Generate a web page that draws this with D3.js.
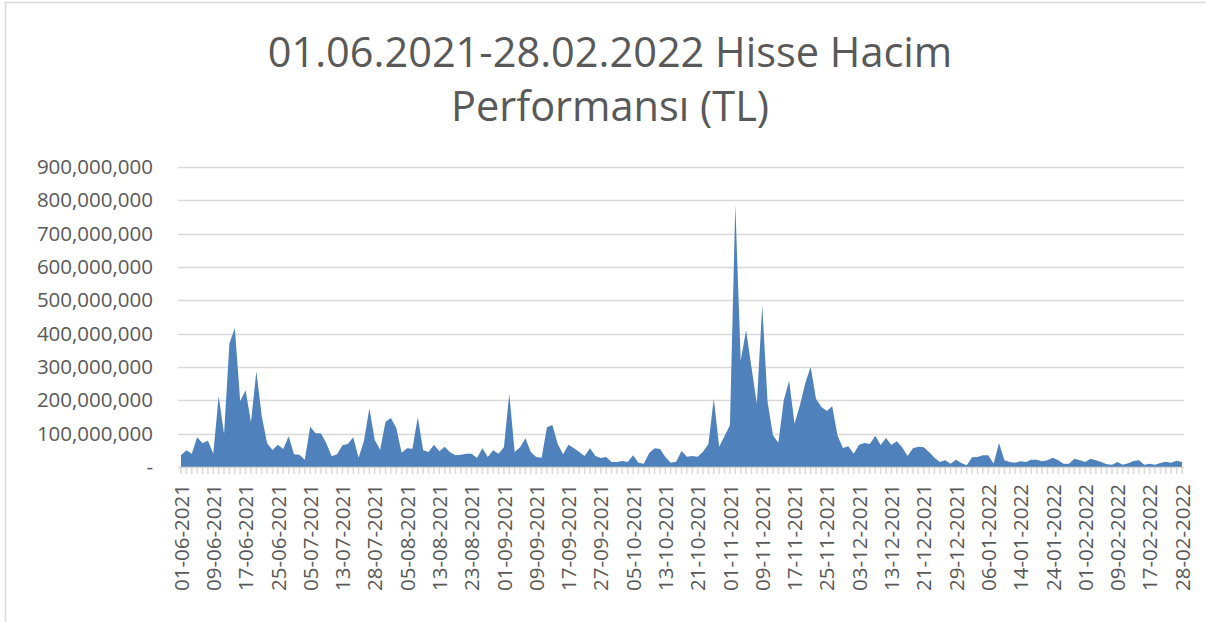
<!DOCTYPE html>
<html>
<head>
<meta charset="utf-8">
<script src="https://cdn.jsdelivr.net/npm/d3@7"></script>
<style>
  html, body { margin: 0; padding: 0; background: #fff; }
  svg { display: block; font-family: 'Open Sans', sans-serif; }
</style>
</head>
<body>
<div id="chart"></div>
<script>
// trading days: every weekday from 01-06-2021 to 28-02-2022 except these
const startDate = '2021-06-01';
const endDate = '2022-02-28';
const closedDays = [
  '2021-07-15', '2021-07-20', '2021-07-21', '2021-07-22', '2021-07-23',
  '2021-08-30', '2021-10-29', '2022-02-18'
];

// daily traded volume, millions of TL
const volumeM = [
  35, 50, 40, 89, 71, 79, 40, 213, 99, 371,
  416, 198, 230, 134, 287, 153, 71, 51, 67, 54,
  92, 38, 37, 22, 121, 101, 101, 71, 32, 38,
  65, 69, 89, 28, 79, 176, 81, 52, 136, 147,
  117, 43, 56, 55, 149, 50, 45, 67, 47, 61,
  44, 35, 37, 40, 40, 27, 56, 30, 50, 40,
  59, 220, 45, 59, 86, 45, 30, 28, 119, 126,
  69, 38, 67, 56, 45, 33, 56, 33, 27, 30,
  15, 15, 18, 15, 35, 13, 10, 42, 56, 54,
  30, 13, 16, 48, 31, 33, 31, 46, 69, 205,
  61, 93, 125, 787, 319, 410, 299, 190, 485, 194,
  95, 73, 200, 259, 130, 185, 251, 301, 204, 180,
  168, 182, 94, 57, 62, 40, 67, 72, 69, 94,
  66, 87, 66, 77, 59, 33, 56, 61, 59, 45,
  28, 15, 20, 10, 22, 12, 5, 29, 30, 35,
  35, 10, 72, 20, 15, 13, 17, 15, 22, 22,
  17, 20, 28, 20, 10, 10, 25, 20, 15, 25,
  20, 15, 8, 7, 15, 7, 11, 18, 20, 7,
  10, 7, 12, 16, 13, 19, 15
];

const tickLabels = [
  '01-06-2021', '09-06-2021', '17-06-2021', '25-06-2021', '05-07-2021',
  '13-07-2021', '28-07-2021', '05-08-2021', '13-08-2021', '23-08-2021',
  '01-09-2021', '09-09-2021', '17-09-2021', '27-09-2021', '05-10-2021',
  '13-10-2021', '21-10-2021', '01-11-2021', '09-11-2021', '17-11-2021',
  '25-11-2021', '03-12-2021', '13-12-2021', '21-12-2021', '29-12-2021',
  '06-01-2022', '14-01-2022', '24-01-2022', '01-02-2022', '09-02-2022',
  '17-02-2022', '28-02-2022'
];

const yTicks = [0, 100, 200, 300, 400, 500, 600, 700, 800, 900];

const titleLines = ['01.06.2021-28.02.2022 Hisse Hacim', 'Performansı (TL)'];

const W = 1206;
const H = 622;
const AREA_COLOR = '#4f81bd';
const GRID_COLOR = '#d9d9d9';
const TEXT_COLOR = '#595959';

let parse = d3.utcParse('%Y-%m-%d');
let fmtDay = d3.utcFormat('%d-%m-%Y');
let iso = d3.utcFormat('%Y-%m-%d');

let days = d3.utcDays(parse(startDate), d3.utcDay.offset(parse(endDate), 1))
  .filter((d) => d.getUTCDay() != 0 && d.getUTCDay() != 6)
  .filter((d) => closedDays.indexOf(iso(d)) < 0)
  .map((d) => fmtDay(d));

let data = days.map((day, i) => ({ day: day, value: volumeM[i] * 1e6 }));

let margin = { left: 181, right: 24, top: 167, bottom: 155 };

let x = d3.scalePoint()
  .domain(days)
  .range([margin.left, W - margin.right]);

let y = d3.scaleLinear()
  .domain([0, 900e6])
  .range([H - margin.bottom, margin.top]);

let svg = d3.select('#chart').append('svg')
  .attr('width', W)
  .attr('height', H);

// chart border (only top and left edges fall inside the picture)
svg.append('rect')
  .attr('x', 5.5)
  .attr('y', 2.5)
  .attr('width', W + 10)
  .attr('height', H + 10)
  .attr('fill', 'none')
  .attr('stroke', GRID_COLOR)
  .attr('stroke-width', 1.5);

// title, two lines
svg.append('g')
  .selectAll('text')
  .data(titleLines)
  .enter().append('text')
  .attr('x', 610)
  .attr('y', (d, i) => 67 + i * 54)
  .attr('text-anchor', 'middle')
  .attr('fill', TEXT_COLOR)
  .style('font-size', '41.5px')
  .text((d) => d);

// gridlines
svg.append('g')
  .selectAll('line')
  .data(yTicks.slice(1))
  .enter().append('line')
  .attr('x1', margin.left - 3)
  .attr('x2', W - margin.right + 2)
  .attr('y1', (d) => Math.round(y(d * 1e6)) + 0.5)
  .attr('y2', (d) => Math.round(y(d * 1e6)) + 0.5)
  .attr('stroke', GRID_COLOR)
  .attr('stroke-width', 1.5);

// area
let area = d3.area()
  .x((d) => x(d.day))
  .y0(y(0))
  .y1((d) => y(d.value));

svg.append('path')
  .datum(data)
  .attr('d', area)
  .attr('fill', AREA_COLOR);

// y axis labels
let yAxis = d3.axisLeft(y)
  .tickValues(yTicks.map((d) => d * 1e6))
  .tickSize(0)
  .tickPadding(0)
  .tickFormat((d) => d == 0 ? '-' : d3.format(',')(d));

let yg = svg.append('g')
  .attr('transform', `translate(${margin.left - 28},0)`)
  .call(yAxis);
yg.select('.domain').remove();
yg.selectAll('text')
  .attr('fill', TEXT_COLOR)
  .style('font-size', '20.5px')
  .style('font-family', "'Open Sans', sans-serif");

// x axis: baseline, small category ticks, rotated labels
let xg = svg.append('g')
  .attr('transform', `translate(0,${y(0)})`);

xg.append('line')
  .attr('x1', margin.left - 3)
  .attr('x2', W - margin.right + 2)
  .attr('y1', 0.5)
  .attr('y2', 0.5)
  .attr('stroke', GRID_COLOR)
  .attr('stroke-width', 1.5);

xg.selectAll('.cat-tick')
  .data(days)
  .enter().append('line')
  .attr('class', 'cat-tick')
  .attr('x1', (d) => x(d))
  .attr('x2', (d) => x(d))
  .attr('y1', 1)
  .attr('y2', 7)
  .attr('stroke', GRID_COLOR)
  .attr('stroke-width', 1.5);

let xAxis = d3.axisBottom(x)
  .tickValues(tickLabels)
  .tickSize(0)
  .tickPadding(0);

let xl = svg.append('g')
  .attr('transform', `translate(0,${y(0)})`)
  .call(xAxis);
xl.select('.domain').remove();
xl.selectAll('text')
  .attr('fill', TEXT_COLOR)
  .style('font-size', '20.5px')
  .style('font-family', "'Open Sans', sans-serif")
  .attr('text-anchor', 'end')
  .attr('transform', 'rotate(-90)')
  .attr('x', -17)
  .attr('y', 0)
  .attr('dy', '0.35em');
</script>
</body>
</html>
